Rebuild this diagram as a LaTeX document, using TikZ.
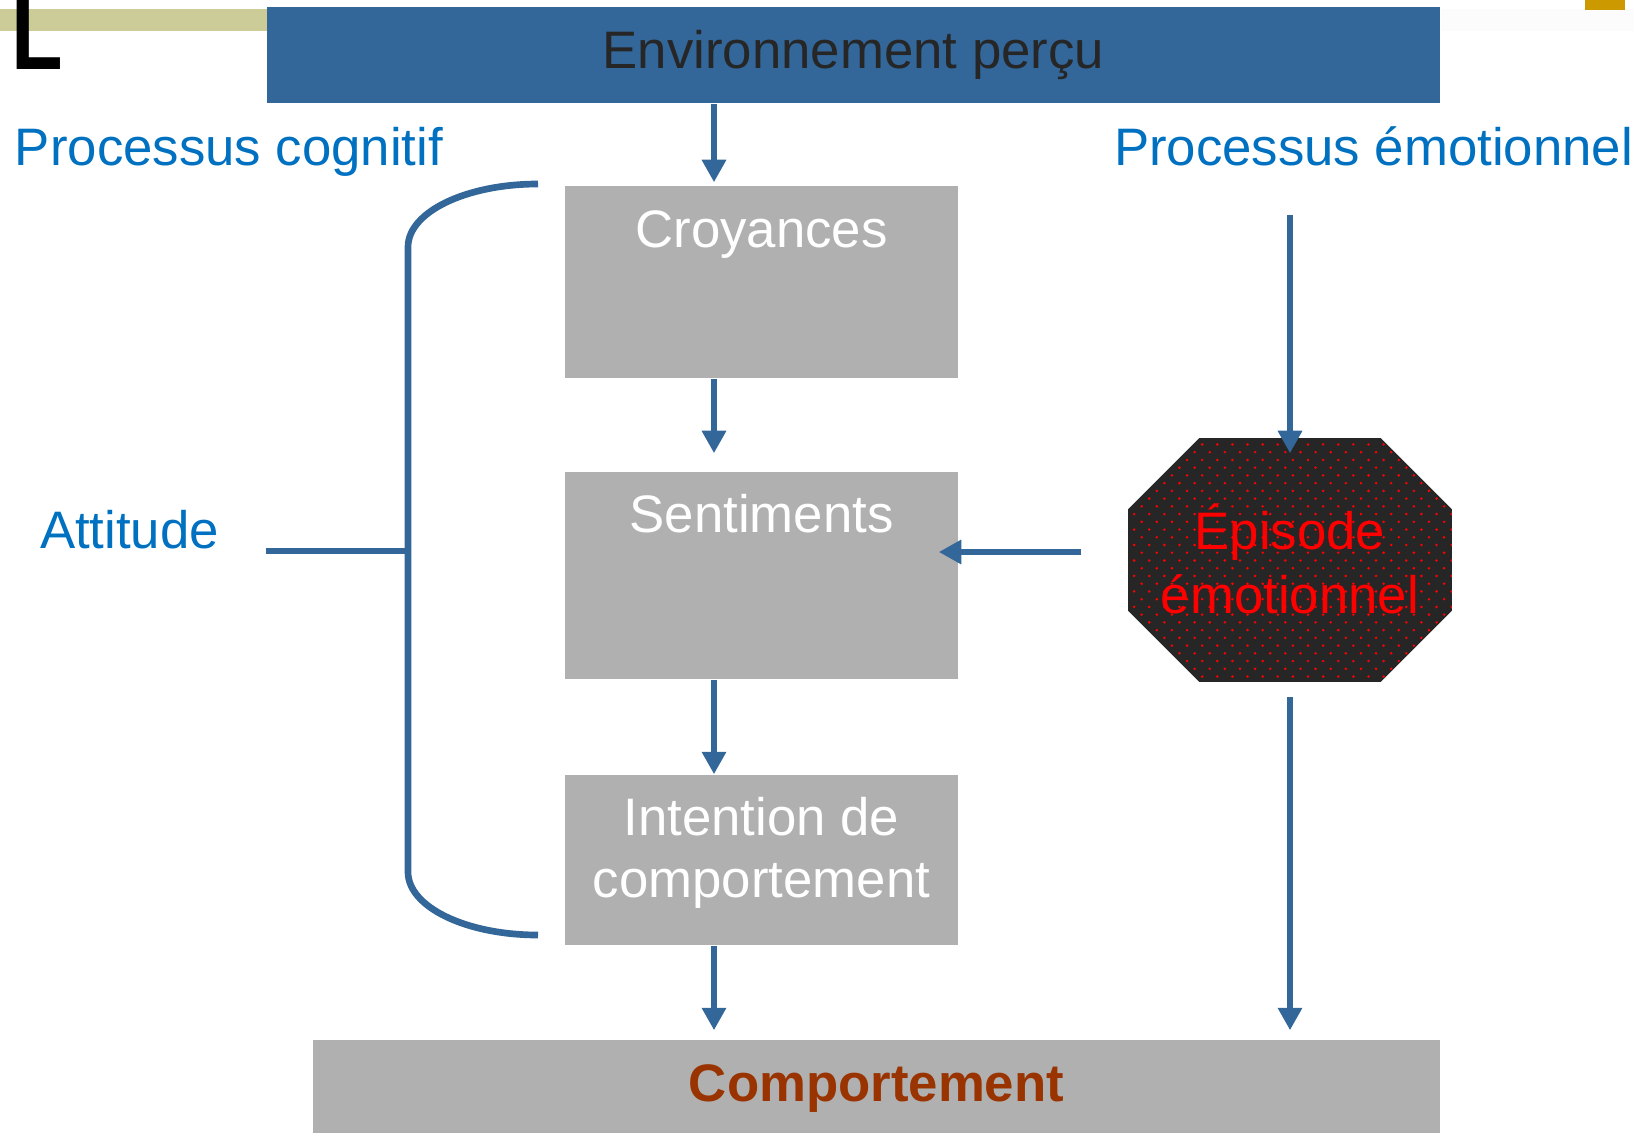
\documentclass[tikz,border=0pt]{standalone}
\usepackage{fontspec}
\setmainfont{Liberation Sans}
\usepackage{xcolor}
\usepackage{tikz}
\usetikzlibrary{arrows.meta,positioning,calc,patterns}
\definecolor{steelblue}{RGB}{51,102,153}
\definecolor{labelblue}{RGB}{0,112,192}
\definecolor{boxgray}{RGB}{176,176,176}
\definecolor{octdark}{RGB}{38,38,38}
\definecolor{compbrown}{RGB}{153,51,0}
\definecolor{barolive}{RGB}{204,204,153}
\definecolor{bargold}{RGB}{204,153,0}
\pgfdeclarepatternformonly{reddots}{\pgfqpoint{-0.5pt}{-0.5pt}}{\pgfqpoint{3.8pt}{3.9pt}}{\pgfqpoint{4.3pt}{4.4pt}}{%
  \pgfpathcircle{\pgfqpoint{0pt}{0pt}}{.4pt}
  \pgfpathcircle{\pgfqpoint{2.15pt}{2.2pt}}{.4pt}
  \pgfusepath{fill}}

\begin{document}
\begin{tikzpicture}[x=0.01cm, y=-0.01cm,
    box/.style={fill=boxgray, minimum width=3.93cm, inner sep=0pt},
    arr/.style={-{Triangle[width=6.6pt,length=6.4pt]}, line width=1.9pt, draw=steelblue},
    lbl/.style={text=labelblue, anchor=base, inner sep=0pt},
    boxtxt/.style={text=white, anchor=base, inner sep=0pt},
    every node/.style={font=\fontsize{15}{18}\selectfont}
]
\useasboundingbox (0,0) rectangle (1648,1133);
\fill[barolive] (0,9) rectangle (267,31);
\fill[black!1] (1441,9) rectangle (1634,31);
\fill[bargold] (1585,0) rectangle (1625,10);
\node[font=\fontsize{30}{30}\selectfont\bfseries, anchor=base west, inner sep=0pt] (corner) at (11,69) {\scalebox{0.8}[1]{L}};

\node[fill=steelblue, minimum width=11.73cm, minimum height=0.96cm, text=black!85] (env) at (853.5,55) {Environnement perçu};
\node[lbl] (cogn) at (229,165) {Processus cognitif};
\node[lbl] (emot) at (1373.5,165) {Processus émotionnel};
\node[lbl] (att) at (129.5,548) {Attitude};

\node[box, minimum height=1.92cm] (croy) at (761.5,282) {};
\node[boxtxt] (croytxt) at (761.5,247) {Croyances};
\node[box, minimum height=2.07cm] (sent) at (761.5,575.5) {};
\node[boxtxt] (senttxt) at (761.5,532) {Sentiments};
\node[box, minimum height=1.70cm] (inten) at (761.5,860) {};
\node[boxtxt] (intenA) at (761.5,835) {Intention de};
\node[boxtxt] (intenB) at (761.5,897) {comportement};
\node[fill=boxgray, minimum width=11.27cm, minimum height=0.97cm, text=compbrown, font=\fontsize{15}{18}\selectfont\bfseries] (comp) at (876.5,1088.5) {Comportement};

\node[minimum width=3.22cm, minimum height=2.42cm, inner sep=0pt] (epi) at (1290,560) {};
\fill[octdark, postaction={pattern=reddots, pattern color=red}]
    ($(epi.north west)+(71,0)$) -- ($(epi.north east)+(-71,0)$) -- ($(epi.north east)+(0,71)$)
    -- ($(epi.south east)+(0,-71)$) -- ($(epi.south east)+(-71,0)$) -- ($(epi.south west)+(71,0)$)
    -- ($(epi.south west)+(0,-71)$) -- ($(epi.north west)+(0,71)$) -- cycle;
\node[text=red, anchor=base, inner sep=0pt] (epiA) at (1290,549) {Épisode};
\node[text=red, anchor=base, inner sep=0pt] (epiB) at (1290,613) {émotionnel};

\coordinate (colL) at (714,0);
\coordinate (emoTop) at (1290,215);
\coordinate (midrow) at (0,552);
\draw[arr, shorten >=0.03cm] (env.south -| colL) -- (croy.north -| colL);
\draw[arr, shorten >=0.18cm] (croy.south -| colL) -- (sent.north -| colL);
\draw[arr] (sent.south -| colL) -- (inten.north -| colL);
\draw[arr, shorten >=0.09cm] (inten.south -| colL) -- (comp.north -| colL);
\draw[arr, shorten >=-0.15cm] (emoTop) -- (epi.north);
\draw[arr, shorten <=0.15cm, shorten >=0.09cm] (epi.south) -- (comp.north -| epi.south);
\draw[arr, shorten <=0.47cm, shorten >=-0.2cm] (epi.west |- midrow) -- (sent.east |- midrow);

\draw[line width=1.9pt, steelblue] (538,184) .. controls (466,184) and (408,212) .. (408,247)
    -- (408,872) .. controls (408,907) and (466,935) .. (538,935);
\coordinate (attEnd) at (266,551);
\draw[line width=1.9pt, steelblue] (attEnd) -- (408,551);
\end{tikzpicture}
\end{document}
